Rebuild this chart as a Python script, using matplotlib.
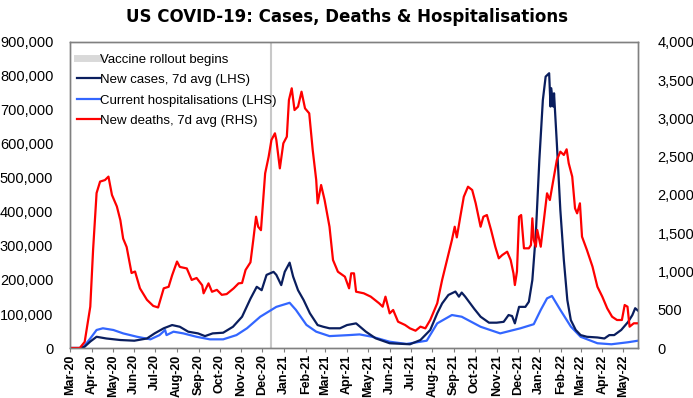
import matplotlib
matplotlib.use("Agg")
import matplotlib.pyplot as plt
import matplotlib.dates as mdates
from matplotlib.lines import Line2D
from matplotlib.ticker import FuncFormatter, MultipleLocator
import pandas as pd

plt.rcParams['font.family'] = ['Liberation Sans', 'DejaVu Sans']

# New deaths, 7d avg (RHS)
death_dates = [
    "2020-03-01", "2020-03-15", "2020-03-22", "2020-03-30", "2020-04-03", "2020-04-08",
    "2020-04-13", "2020-04-20", "2020-04-25", "2020-04-30", "2020-05-07", "2020-05-12",
    "2020-05-16", "2020-05-21", "2020-05-28", "2020-06-02", "2020-06-09", "2020-06-19",
    "2020-06-28", "2020-07-05", "2020-07-13", "2020-07-20", "2020-07-25", "2020-08-01",
    "2020-08-05", "2020-08-15", "2020-08-22", "2020-08-29", "2020-09-06", "2020-09-08",
    "2020-09-15", "2020-09-20", "2020-09-27", "2020-10-04", "2020-10-11", "2020-10-21",
    "2020-10-28", "2020-11-02", "2020-11-07", "2020-11-14", "2020-11-18", "2020-11-22",
    "2020-11-25", "2020-11-29", "2020-12-05", "2020-12-10", "2020-12-14", "2020-12-19",
    "2020-12-21", "2020-12-26", "2020-12-31", "2021-01-05", "2021-01-08", "2021-01-12",
    "2021-01-16", "2021-01-21", "2021-01-26", "2021-01-31", "2021-02-06", "2021-02-11",
    "2021-02-16", "2021-02-18", "2021-02-23", "2021-02-28", "2021-03-07", "2021-03-12",
    "2021-03-19", "2021-03-29", "2021-04-04", "2021-04-07", "2021-04-11", "2021-04-14",
    "2021-04-25", "2021-05-05", "2021-05-17", "2021-05-22", "2021-05-26", "2021-06-01",
    "2021-06-06", "2021-06-13", "2021-06-23", "2021-06-30", "2021-07-08", "2021-07-15",
    "2021-07-22", "2021-07-29", "2021-08-08", "2021-08-15", "2021-08-22", "2021-08-29",
    "2021-09-02", "2021-09-05", "2021-09-10", "2021-09-15", "2021-09-21", "2021-09-27",
    "2021-10-02", "2021-10-09", "2021-10-13", "2021-10-18", "2021-10-24", "2021-10-30",
    "2021-11-04", "2021-11-09", "2021-11-16", "2021-11-21", "2021-11-25", "2021-11-27",
    "2021-11-30", "2021-12-03", "2021-12-06", "2021-12-10", "2021-12-17", "2021-12-20",
    "2021-12-22", "2021-12-24", "2021-12-27", "2021-12-29", "2022-01-03", "2022-01-08",
    "2022-01-12", "2022-01-16", "2022-01-21", "2022-01-26", "2022-01-31", "2022-02-05",
    "2022-02-09", "2022-02-12", "2022-02-17", "2022-02-21", "2022-02-24", "2022-02-28",
    "2022-03-03", "2022-03-10", "2022-03-18", "2022-03-25", "2022-04-01", "2022-04-08",
    "2022-04-15", "2022-04-22", "2022-04-29", "2022-05-03", "2022-05-07", "2022-05-10",
    "2022-05-16", "2022-05-22",
]
deaths = [
    0, 0, 80, 540, 1280, 2025,
    2175, 2195, 2240, 2000, 1850, 1670,
    1430, 1320, 980, 1000, 780, 630,
    550, 530, 780, 800, 950, 1130,
    1060, 1040, 890, 915, 820, 715,
    845, 735, 760, 695, 705, 780,
    845, 850, 1020, 1120, 1410, 1716,
    1585, 1540, 2283, 2500, 2719, 2806,
    2719, 2348, 2675, 2762, 3241, 3394,
    3110, 3154, 3350, 3132, 3067, 2588,
    2196, 1891, 2130, 1934, 1585, 1150,
    997, 932, 780, 976, 976, 736,
    715, 671, 584, 540, 671, 453,
    497, 344, 301, 257, 226, 279,
    257, 366, 584, 889, 1150, 1411,
    1585, 1446, 1716, 1977, 2108, 2065,
    1891, 1585, 1716, 1738, 1542, 1324,
    1172, 1215, 1259, 1150, 976, 823,
    1000, 1716, 1738, 1303, 1303, 1346,
    1695, 1411, 1324, 1542, 1324, 1716,
    2022, 1934, 2196, 2457, 2566, 2523,
    2597, 2414, 2240, 1826, 1760, 1891,
    1455, 1281, 1063, 801, 671, 519,
    409, 366, 366, 562, 540, 279,
    323, 323,
]

# New cases, 7d avg (LHS)
case_dates = [
    "2020-03-01", "2020-03-15", "2020-03-22", "2020-03-30", "2020-04-08", "2020-04-22",
    "2020-05-12", "2020-06-01", "2020-06-19", "2020-06-30", "2020-07-13", "2020-07-25",
    "2020-08-05", "2020-08-17", "2020-08-31", "2020-09-10", "2020-09-21", "2020-10-06",
    "2020-10-20", "2020-11-02", "2020-11-14", "2020-11-23", "2020-11-30", "2020-12-07",
    "2020-12-17", "2020-12-21", "2020-12-28", "2021-01-02", "2021-01-09", "2021-01-14",
    "2021-01-21", "2021-01-29", "2021-02-07", "2021-02-18", "2021-02-26", "2021-03-07",
    "2021-03-22", "2021-04-01", "2021-04-14", "2021-04-28", "2021-05-12", "2021-06-01",
    "2021-06-30", "2021-07-15", "2021-07-29", "2021-08-08", "2021-08-15", "2021-08-24",
    "2021-09-03", "2021-09-08", "2021-09-12", "2021-09-17", "2021-09-30", "2021-10-09",
    "2021-10-21", "2021-11-01", "2021-11-11", "2021-11-18", "2021-11-23", "2021-11-27",
    "2021-12-03", "2021-12-12", "2021-12-17", "2021-12-22", "2021-12-27", "2022-01-01",
    "2022-01-06", "2022-01-10", "2022-01-15", "2022-01-17", "2022-01-18", "2022-01-21",
    "2022-01-22", "2022-01-26", "2022-01-31", "2022-02-05", "2022-02-10", "2022-02-15",
    "2022-02-22", "2022-03-01", "2022-03-10", "2022-03-25", "2022-04-04", "2022-04-11",
    "2022-04-18", "2022-04-28", "2022-05-08", "2022-05-14", "2022-05-18", "2022-05-22",
]
cases = [
    0, 0, 4000, 19000, 33000, 28000,
    23500, 21500, 28000, 43000, 58000, 67500,
    62500, 48000, 43000, 35000, 43000, 45000,
    62500, 92000, 145000, 180000, 170000, 215000,
    224000, 215000, 185000, 224000, 251000, 210000,
    170000, 141000, 102000, 67500, 62500, 58000,
    58000, 67500, 72500, 48000, 28500, 14000,
    11000, 23500, 53000, 102000, 131000, 156000,
    166000, 151000, 163000, 151000, 115000, 92000,
    74500, 74500, 77000, 97000, 94000, 72500,
    121000, 121000, 136000, 200000, 337000, 553000,
    729000, 798000, 808000, 710000, 764000, 710000,
    749000, 602000, 406000, 259000, 141000, 82000,
    53000, 38000, 33000, 31000, 28000, 38000,
    38000, 53000, 77000, 97000, 117000, 110000,
]

# Current hospitalisations (LHS)
hosp_dates = [
    "2020-03-01", "2020-03-19", "2020-03-30", "2020-04-08", "2020-04-17", "2020-05-02",
    "2020-05-16", "2020-06-05", "2020-06-24", "2020-07-07", "2020-07-15", "2020-07-17",
    "2020-07-27", "2020-08-10", "2020-08-29", "2020-09-17", "2020-10-06", "2020-10-25",
    "2020-11-09", "2020-11-28", "2020-12-21", "2021-01-09", "2021-01-18", "2021-02-02",
    "2021-02-16", "2021-03-07", "2021-04-04", "2021-04-19", "2021-05-07", "2021-06-01",
    "2021-06-25", "2021-07-24", "2021-08-08", "2021-08-29", "2021-09-12", "2021-10-09",
    "2021-11-06", "2021-12-05", "2021-12-24", "2022-01-03", "2022-01-12", "2022-01-19",
    "2022-01-31", "2022-02-15", "2022-03-01", "2022-03-25", "2022-04-14", "2022-05-08",
    "2022-05-22",
]
hosp = [
    0, 0, 28000, 53000, 58000, 53000,
    43000, 33000, 25500, 38000, 53000, 38000,
    48000, 43000, 33000, 25500, 25500, 38000,
    58000, 92000, 121000, 133000, 112000, 68000,
    48000, 35000, 38000, 40000, 33000, 18500,
    12000, 21500, 72500, 97000, 92000, 62500,
    43000, 58000, 70000, 112000, 146000, 153000,
    112000, 63000, 33000, 14000, 11000, 17000,
    21500,
]

vaccine_date = "2020-12-14"

fig = plt.figure(figsize=(6.93, 3.98), dpi=100)
ax = fig.add_axes([0.101, 0.1256, 0.8196, 0.769])
ax2 = ax.twinx()

ax.axvline(pd.Timestamp(vaccine_date), color="#C8C8C8", lw=1.5, zorder=1)
ax.plot(pd.to_datetime(hosp_dates), hosp, color="#3366FF", lw=1.6, zorder=2)
ax.plot(pd.to_datetime(case_dates), cases, color="#0A1E5E", lw=1.6, zorder=3)
ax2.plot(pd.to_datetime(death_dates), deaths, color="#FF0000", lw=1.6)

ax.set_xlim(pd.Timestamp("2020-03-01"), pd.Timestamp("2022-05-22"))
ax.set_ylim(0, 900000)
ax2.set_ylim(0, 4000)
ax.yaxis.set_major_locator(MultipleLocator(100000))
ax2.yaxis.set_major_locator(MultipleLocator(500))
comma = FuncFormatter(lambda v, p: f"{int(v):,}")
ax.yaxis.set_major_formatter(comma)
ax2.yaxis.set_major_formatter(comma)

ax.xaxis.set_major_locator(mdates.MonthLocator())
ax.xaxis.set_major_formatter(mdates.DateFormatter("%b-%y"))
for lab in ax.get_xticklabels():
    lab.set_rotation(90)
    lab.set_fontweight("bold")

ax.tick_params(axis="x", direction="out", length=3, width=0.8, color="#808080",
               labelsize=9, pad=1.5)
ax.tick_params(axis="y", length=0, labelsize=10.5, pad=12)
ax2.tick_params(axis="y", length=0, labelsize=10.5, pad=14)

for a in (ax, ax2):
    for s in a.spines.values():
        s.set_color("#808080")
        s.set_linewidth(1.0)

handles = [
    Line2D([], [], color="#D9D9D9", lw=5),
    Line2D([], [], color="#0A1E5E", lw=1.6),
    Line2D([], [], color="#3366FF", lw=1.6),
    Line2D([], [], color="#FF0000", lw=1.6),
]
labels = ["Vaccine rollout begins", "New cases, 7d avg (LHS)",
          "Current hospitalisations (LHS)", "New deaths, 7d avg (RHS)"]
ax2.legend(handles, labels, loc="upper left", frameon=False, fontsize=9.5,
           handlelength=1.8, handletextpad=0.0, labelspacing=0.62,
           borderaxespad=0.0, borderpad=0.5, bbox_to_anchor=(0.0, 0.984))

fig.suptitle("US COVID-19: Cases, Deaths & Hospitalisations", fontsize=12,
             fontweight="bold", family="DejaVu Sans", x=0.5, y=0.98)

fig.savefig("out.png", dpi=100)
